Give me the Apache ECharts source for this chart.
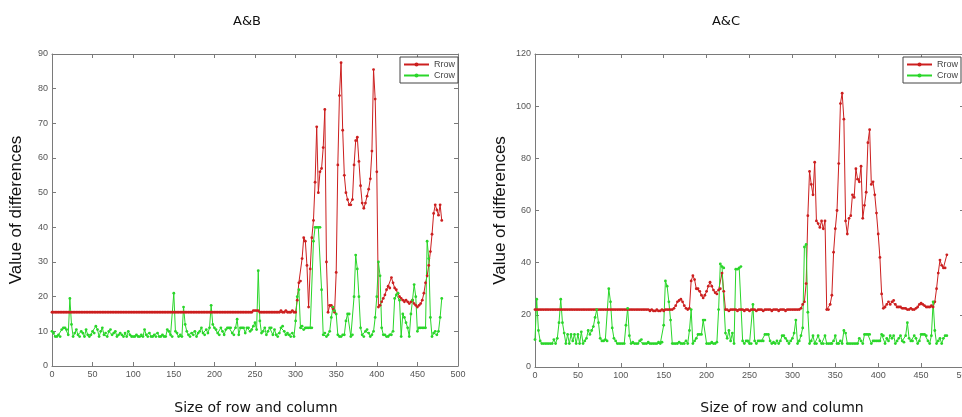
<!DOCTYPE html>
<html>
<head>
<meta charset="utf-8">
<script src="https://cdn.jsdelivr.net/npm/echarts@6/dist/echarts.min.js"></script>
<style>
html,body{margin:0;padding:0;background:#fff;}
#chart{width:962px;height:417px;}
</style>
</head>
<body>
<div id="chart"></div>
<script>
// x grid: sample positions 0..480, every 2 units
const xStart = 0, xStep = 2;

// A&B : Rrow
const abRow = [
15.5,15.5,15.5,15.5,15.5,15.5,15.5,15.5,15.5,15.5,
15.5,15.5,15.5,15.5,15.5,15.5,15.5,15.5,15.5,15.5,
15.5,15.5,15.5,15.5,15.5,15.5,15.5,15.5,15.5,15.5,
15.5,15.5,15.5,15.5,15.5,15.5,15.5,15.5,15.5,15.5,
15.5,15.5,15.5,15.5,15.5,15.5,15.5,15.5,15.5,15.5,
15.5,15.5,15.5,15.5,15.5,15.5,15.5,15.5,15.5,15.5,
15.5,15.5,15.5,15.5,15.5,15.5,15.5,15.5,15.5,15.5,
15.5,15.5,15.5,15.5,15.5,15.5,15.5,15.5,15.5,15.5,
15.5,15.5,15.5,15.5,15.5,15.5,15.5,15.5,15.5,15.5,
15.5,15.5,15.5,15.5,15.5,15.5,15.5,15.5,15.5,15.5,
15.5,15.5,15.5,15.5,15.5,15.5,15.5,15.5,15.5,15.5,
15.5,15.5,15.5,15.5,15.5,15.5,15.5,15.5,15.5,15.5,
15.5,15.5,15.5,15.5,16,16,16,16,15.5,15.5,
15.5,15.5,15.5,15.5,15.5,15.5,15.5,15.5,15.5,15.5,
15.5,16,15.5,15.5,16,15.5,15.5,15.5,16,15.5,
15.5,19,24,24.5,31,37,36,29,17,28,
37,42,53,69,50,56,57,63,74,30,
15.5,17.5,17.5,16.5,15.5,27,58,78,87.5,68,
55,50,48,46.5,46.5,48,58,65,66,59,
52,47,45.5,47,49,51,54,62,85.5,77,
56,17,17.5,18.5,19.5,20.5,22,23,22.5,25.5,
24,22.5,22,21,20,19.5,19,18.5,19,18.5,
18,18.5,19,18,17.5,17,17.5,18,19,21,
24,26,29,33,38,44,46.5,45,43.5,46.5,
42
];

// A&B : Crow
const abCol = [
10,9.5,8.5,8.5,9,8.5,10.5,11,11,10.5,
9,19.5,12,8.5,9.5,10.5,9,8.5,10,9.5,
8.5,10.5,9,8.5,9,10,9.5,11.5,10.5,8.5,
10,11,9,9.5,8.5,10,10.5,9,9.5,10,
8.5,9,9.5,9,8.5,9.5,8.5,10,9,8.5,
8.5,8.5,9,8.5,8.5,9,8.5,10.5,9,8.5,
9.5,8.5,8.5,9,8.5,9.5,8.5,8.5,9,8.5,
8.5,10.5,10,9,8.5,21,10,9.5,8.5,9,
8.5,17,12,10,9,8.5,9.5,9,10,8.5,
9.5,10,11,9.5,9,10.5,9.5,11,17.5,12,
11,10.5,9.5,9,11,10,9,10.5,11,11,
11,9.5,9,11,13.5,9,11,11,11,9.5,
11,11,10,10.5,11.5,12.5,10.5,27.5,13,9.5,
10,11,9,10,11,11,9,10.5,9,8.5,
9.5,11,11.5,10,9,9.5,9,8.5,9.5,8.5,
13,20,22,11,11.5,10.5,11,11,11,11,
11,36,40,40,40,40,22,9,9.5,8.5,
9,10,14,17,16,15,9,8.5,8.5,9,
9,13,15,15,8.5,9,20,32,28,20,
11,9,8.5,10,10.5,9.5,8.5,9,10,14,
20,30,26,11,9,9,8.5,8.5,9,9,
10,19.5,20.5,21,19,8.5,15,14,12.5,11,
8.5,15,19,23.5,20,10,11,11,11,11,
11,36,31,14,8.5,9.5,10,9,10,14,
19.5
];

// A&C : Rrow
const acRow = [
22,22,22,22,22,22,22,22,22,22,
22,22,22,22,22,22,22,22,22,22,
22,22,22,22,22,22,22,22,22,22,
22,22,22,22,22,22,22,22,22,22,
22,22,22,22,22,22,22,22,22,22,
22,22,22,22,22,22,22,22,22,22,
22,22,22,22,22,22,22,21.5,22,21.5,
21.5,22,21.5,21.5,22,21.5,22,22,22,22,
22,22.5,23.5,25,25.5,26,25,23.5,22.5,22,
22.5,33,35,33.5,30,30,29,27.5,26.5,27.5,
29,31,32.5,31,29.5,28.5,28,29.5,30,36,
29,22,22,21.5,22,22,22,22,21.5,22,
22,22,21.5,22,22,21.5,22,22,22,21.5,
22,22,22,21.5,22,22,22,22,21.5,22,
22,22,21.5,22,22,22,21.5,22,22,22,
22,22,22,22,22,22.5,24,25,32,58,
75,70,66,78.5,56,55,53.5,56,53,56,
22,22,24,27.5,44,53,60,78,101,105,
95,56,51,57,58,66,65,76,72,71,
77,57,62,67,86,91,70,71,66,59,
51,42,28,22.5,23,24,25,24,25,25.5,
24,23,23,23,22.5,22.5,22.5,22,22,22.5,
22,22,22.5,23,24,24.5,24,23.5,23,23,
23,23.5,23,25,30,36,41,39,38,38,
43
];

// A&C : Crow
const acCol = [
10.5,26,14,10,9,9,9,9,9,9,
9,10.5,9,11,17,26,17,13,9,12.5,
9,12.5,10,12.5,9,12.5,9,13.5,9,10,
11,14,12.5,14,15.5,19,22,17,11,10,
10,10.5,10,30,25,15,11,10,9,9,
9,9,9,16,22.5,12,9,9.5,9,9,
9,10,10.5,9,9,9,9.5,9,9,9,
9,9,9.5,9,9.5,16,33,31,25,18,
9,9,9,9,9.5,9,9,9,10,9,
14,22,9,10,11,12.5,12.5,12.5,18,18,
9,9,9,9.5,9,9,9.5,22,39.5,38.5,
38,13,11,14,10,13,9,37.5,37.5,38,
38.5,10,9,10,10,9,9,24,10,9,
10,10,10,10,12.5,12.5,12.5,10,9,9.5,
9,10,9,10,12,12,11,10,9,10,
11,13,18,9,10,12,15,46,47,21,
9,10,12,9,9,12,10,9,9,12,
9,9,9,9,10,12,9,9,10,9,
14,13,9,9,9,9,9,9,9,11,
10,9,12.5,12.5,12.5,12.5,9,10,10,10,
10,10,12.5,12,9,11,10,12,11,12,
9,10,11,12,10,9.5,12,17,11,10,
10,12,11,9,10,12.5,12.5,12.5,12,10,
9,12,25,14,9,10,11,9,11,12,
12
];

const panelTitles = ['A&B', 'A&C'];
const seriesNames = ['Rrow', 'Crow'];
const xAxisName = 'Size of row and column';
const yAxisName = 'Value of differences';
const yMax = [90, 120];
const yInterval = [10, 20];

function pairs(vals) {
  return vals.map((v, i) => [xStart + i * xStep, v]);
}

const RED = '#cc1f1f';
const GREEN = '#2ad62a';
const AXIS = '#7a7a7a';
const LABEL = '#555';

const grids = [
  {left: 52, top: 54, width: 406, height: 312},
  {left: 535, top: 54, width: 429, height: 313}
];

const xAxes = [], yAxes = [];
grids.forEach((g, gi) => {
  ['bottom', 'top'].forEach((pos) => {
    xAxes.push({
      gridIndex: gi, type: 'value', position: pos, min: 0, max: 500, interval: 50,
      axisLine: {show: true, onZero: false, lineStyle: {color: AXIS, width: 1}},
      axisTick: {show: true, inside: true, length: 4, lineStyle: {color: AXIS}},
      axisLabel: {show: pos === 'bottom', fontSize: 9, color: LABEL, margin: 4, fontFamily: 'Liberation Sans'},
      splitLine: {show: false}
    });
  });
  ['left', 'right'].forEach((pos) => {
    yAxes.push({
      gridIndex: gi, type: 'value', position: pos, min: 0, max: yMax[gi], interval: yInterval[gi],
      name: pos === 'left' ? yAxisName : '',
      nameLocation: 'middle', nameGap: gi === 0 ? 27 : 26,
      nameTextStyle: {fontSize: 17, color: '#111', fontFamily: 'Liberation Sans'},
      axisLine: {show: true, onZero: false, lineStyle: {color: AXIS, width: 1}},
      axisTick: {show: true, inside: true, length: 4, lineStyle: {color: AXIS}},
      axisLabel: {show: pos === 'left', fontSize: 9, color: LABEL, margin: 4, fontFamily: 'Liberation Sans'},
      splitLine: {show: false}
    });
  });
});

function lineSeries(name, color, vals, gi) {
  return {
    name: name, type: 'line', xAxisIndex: gi * 2, yAxisIndex: gi * 2,
    data: pairs(vals), symbol: 'circle', symbolSize: 2.8, showAllSymbol: true,
    lineStyle: {color: color, width: 1}, itemStyle: {color: color},
    emphasis: {disabled: true}, animation: false, clip: false
  };
}

const legendBase = {
  data: seriesNames, top: 57, orient: 'vertical', itemGap: 2, itemWidth: 25, itemHeight: 5,
  padding: [3, 3, 3, 3], borderColor: '#444', borderWidth: 1, backgroundColor: '#fff',
  textStyle: {fontSize: 9, color: '#444', fontFamily: 'Liberation Sans'}, selectedMode: false
};

const option = {
  animation: false,
  backgroundColor: '#fff',
  title: [
    {text: panelTitles[0], left: 242, top: 10, textAlign: 'center', textStyle: {fontSize: 13, fontWeight: 'normal', color: '#111', fontFamily: 'DejaVu Sans'}},
    {text: panelTitles[1], left: 721, top: 10, textAlign: 'center', textStyle: {fontSize: 13, fontWeight: 'normal', color: '#111', fontFamily: 'DejaVu Sans'}},
    {text: xAxisName, left: 251, top: 396, textAlign: 'center', textStyle: {fontSize: 14, fontWeight: 'normal', color: '#111', fontFamily: 'DejaVu Sans'}},
    {text: xAxisName, left: 777, top: 396, textAlign: 'center', textStyle: {fontSize: 14, fontWeight: 'normal', color: '#111', fontFamily: 'DejaVu Sans'}}
  ],
  legend: [
    Object.assign({left: 400}, legendBase),
    Object.assign({left: 903}, legendBase)
  ],
  grid: grids.map(g => Object.assign({show: false, containLabel: false, outerBoundsMode: 'none'}, g)),
  xAxis: xAxes,
  yAxis: yAxes,
  series: [
    lineSeries(seriesNames[0], RED, abRow, 0),
    lineSeries(seriesNames[1], GREEN, abCol, 0),
    lineSeries(seriesNames[0], RED, acRow, 1),
    lineSeries(seriesNames[1], GREEN, acCol, 1)
  ]
};

const chart = echarts.init(document.getElementById('chart'), null, {renderer: 'canvas'});
chart.setOption(option);
</script>
</body>
</html>
